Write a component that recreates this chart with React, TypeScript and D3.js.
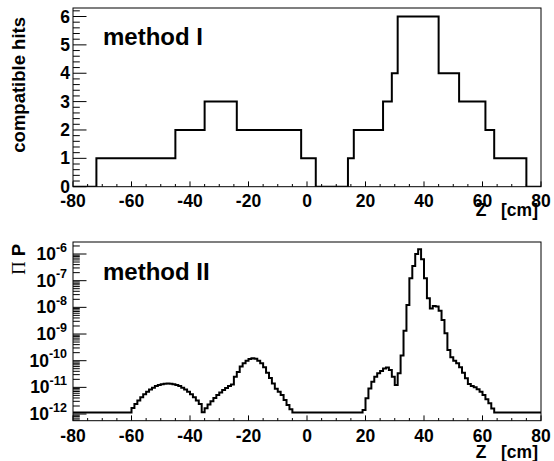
import React from 'react';
import * as d3 from 'd3';

// ---------- data ----------
// Upper panel: variable-width bins (edges in cm) and hit counts
const TOP_EDGES = [-80, -72, -45, -35, -24, -2, 3, 14, 16, 26, 29, 31, 45, 52, 61, 64, 75, 80];
const TOP_COUNTS = [0, 1, 2, 3, 2, 1, 0, 1, 2, 3, 4, 6, 4, 3, 2, 1, 0];

// Lower panel: 1 cm bins from -80 to 80, product of probabilities
const BOTTOM_START = -80;
const BOTTOM_END = 80;
const BOTTOM_VALUES = [
  // -80 .. -61
  1.15e-12, 1.15e-12, 1.15e-12, 1.15e-12, 1.15e-12, 1.15e-12, 1.15e-12, 1.15e-12, 1.15e-12, 1.15e-12,
  1.15e-12, 1.15e-12, 1.15e-12, 1.15e-12, 1.15e-12, 1.15e-12, 1.15e-12, 1.15e-12, 1.15e-12, 1.15e-12,
  // -60 .. -37
  1.70e-12, 2.40e-12, 3.24e-12, 4.27e-12, 5.50e-12, 6.92e-12, 8.32e-12, 9.77e-12,
  1.12e-11, 1.23e-11, 1.32e-11, 1.38e-11, 1.41e-11, 1.38e-11, 1.32e-11, 1.23e-11,
  1.12e-11, 9.77e-12, 8.32e-12, 6.92e-12, 5.50e-12, 4.27e-12, 3.24e-12, 2.40e-12,
  // -36 .. -6
  1.17e-12, 1.66e-12, 2.29e-12, 3.02e-12, 3.98e-12, 5.13e-12, 6.46e-12, 7.94e-12, 9.55e-12, 1.12e-11,
  1.29e-11, 2.51e-11, 3.80e-11, 6.03e-11, 7.94e-11, 1.0e-10, 1.15e-10, 1.23e-10, 1.17e-10, 1.0e-10,
  7.94e-11, 5.62e-11, 3.55e-11, 2.24e-11, 1.41e-11, 8.91e-12, 6.92e-12, 5.13e-12, 3.39e-12, 2.19e-12,
  1.51e-12,
  // -5 .. 18
  1.15e-12, 1.15e-12, 1.15e-12, 1.15e-12, 1.15e-12, 1.15e-12, 1.15e-12, 1.15e-12, 1.15e-12, 1.15e-12,
  1.15e-12, 1.15e-12, 1.15e-12, 1.15e-12, 1.15e-12, 1.15e-12, 1.15e-12, 1.15e-12, 1.15e-12, 1.15e-12,
  1.15e-12, 1.15e-12, 1.15e-12, 1.15e-12,
  // 19 .. 63
  1.41e-12, 3.89e-12, 9.12e-12, 1.62e-11, 2.51e-11, 3.39e-11, 4.07e-11, 5.13e-11, 5.50e-11, 4.47e-11,
  2.51e-11, 1.23e-11, 3.39e-11, 1.58e-10, 1.32e-9, 1.23e-8, 1.23e-7, 3.55e-7, 1.0e-6, 1.51e-6,
  6.31e-7, 1.23e-7, 2.19e-8, 9.12e-9, 1.12e-8, 1.07e-8, 7.41e-9, 3.39e-9, 1.07e-9, 2.51e-10,
  1.35e-10, 1.0e-10, 7.94e-11, 5.62e-11, 3.55e-11, 2.19e-11, 1.35e-11, 1.12e-11, 1.0e-11, 8.51e-12,
  6.92e-12, 5.13e-12, 3.55e-12, 2.51e-12, 1.62e-12,
  // 64 .. 79
  1.15e-12, 1.15e-12, 1.15e-12, 1.15e-12, 1.15e-12, 1.15e-12, 1.15e-12, 1.15e-12, 1.15e-12, 1.15e-12,
  1.15e-12, 1.15e-12, 1.15e-12, 1.15e-12, 1.15e-12, 1.15e-12,
];

const X_TICKS = [-80, -60, -40, -20, 0, 20, 40, 60, 80];
const TOP_Y_TICKS = [0, 1, 2, 3, 4, 5, 6];
const LOG_EXPONENTS = [-6, -7, -8, -9, -10, -11, -12];

const FONT = "'Liberation Sans', Arial, Helvetica, sans-serif";
const LABEL_SIZE = 17.5;

function stepPoints(edges: number[], values: number[]): [number, number][] {
  const pts: [number, number][] = [];
  values.forEach((v, i) => {
    pts.push([edges[i], v]);
    pts.push([edges[i + 1], v]);
  });
  return pts;
}

export default function App() {
  const W = 554, H = 461;
  const L = 73, R = 541;
  const top = { y0: 8, y1: 186.7 };
  const bot = { y0: 242, y1: 420.7 };

  const x = d3.scaleLinear().domain([-80, 80]).range([L, R]);
  const yTop = d3.scaleLinear().domain([0, 6.3]).range([top.y1, top.y0]);
  const yBot = d3.scaleLog().domain([Math.pow(10, -12.25), Math.pow(10, -5.55)]).range([bot.y1, bot.y0]);

  const topLine = d3.line<[number, number]>().x(d => x(d[0])).y(d => yTop(d[1]));
  const botEdges = d3.range(BOTTOM_START, BOTTOM_END + 1, 1);
  const botLine = d3.line<[number, number]>().x(d => x(d[0])).y(d => yBot(d[1]));

  const topPath = topLine(stepPoints(TOP_EDGES, TOP_COUNTS)) || '';
  const botPath = botLine(stepPoints(botEdges, BOTTOM_VALUES)) || '';

  const xMinor = d3.range(-80, 81, 5).filter(v => v % 20 !== 0);
  const yTopMinor = d3.range(0, 6.3, 0.2).filter(v => Math.abs(v - Math.round(v)) > 1e-6);
  const [dLo, dHi] = yBot.domain();
  const logMinor: number[] = [];
  for (let e = -13; e <= -5; e++) {
    for (let m = 2; m <= 9; m++) {
      const v = m * Math.pow(10, e);
      if (v >= dLo && v <= dHi) logMinor.push(v);
    }
  }

  const xMajorLen = 5.3, xMinorLen = 2.7;
  const yMajorLen = 13.5, yMinorLen = 6.8;

  const xAxis = (y1: number, labelBaseline: number, key: string) => (
    <g key={key}>
      {X_TICKS.map(t => (
        <line key={'M' + t} x1={x(t)} x2={x(t)} y1={y1} y2={y1 - xMajorLen} stroke="#000" strokeWidth={1} />
      ))}
      {xMinor.map(t => (
        <line key={'m' + t} x1={x(t)} x2={x(t)} y1={y1} y2={y1 - xMinorLen} stroke="#000" strokeWidth={1} />
      ))}
      {X_TICKS.map(t => (
        <text key={'l' + t} x={x(t)} y={labelBaseline} textAnchor="middle" fontFamily={FONT}
          fontWeight="bold" fontSize={LABEL_SIZE}>{t}</text>
      ))}
    </g>
  );

  return (
    <svg width={W} height={H} style={{ position: 'absolute', left: 0, top: 0, background: '#fff' }}>
      <rect x={0} y={0} width={W} height={H} fill="#fff" />
      <defs>
        <clipPath id="clipTop"><rect x={L} y={top.y0} width={R - L} height={top.y1 - top.y0} /></clipPath>
        <clipPath id="clipBot"><rect x={L} y={bot.y0} width={R - L} height={bot.y1 - bot.y0} /></clipPath>
      </defs>

      {/* ---------- top panel ---------- */}
      <rect x={L} y={top.y0} width={R - L} height={top.y1 - top.y0} fill="none" stroke="#000" strokeWidth={1} />
      <path d={topPath} fill="none" stroke="#000" strokeWidth={2} clipPath="url(#clipTop)" />
      {TOP_Y_TICKS.map(t => (
        <g key={'yt' + t}>
          <line x1={L} x2={L + yMajorLen} y1={yTop(t)} y2={yTop(t)} stroke="#000" strokeWidth={1} />
          <text x={70} y={yTop(t) + 6} textAnchor="end" fontFamily={FONT} fontWeight="bold" fontSize={LABEL_SIZE}>{t}</text>
        </g>
      ))}
      {yTopMinor.map(t => (
        <line key={'ytm' + t} x1={L} x2={L + yMinorLen} y1={yTop(t)} y2={yTop(t)} stroke="#000" strokeWidth={1} />
      ))}
      {xAxis(top.y1, 207, 'xa1')}
      <text x={538} y={216} textAnchor="end" fontFamily={FONT} fontWeight="bold" fontSize={LABEL_SIZE}
        style={{ whiteSpace: 'pre' }}>{'Z   [cm]'}</text>
      <text transform={`translate(25,17) rotate(-90)`} textAnchor="end" fontFamily={FONT}
        fontWeight="bold" fontSize={18.5}>compatible hits</text>
      <text x={103} y={45} fontFamily={FONT} fontWeight="bold" fontSize={24}>method I</text>

      {/* ---------- bottom panel ---------- */}
      <rect x={L} y={bot.y0} width={R - L} height={bot.y1 - bot.y0} fill="none" stroke="#000" strokeWidth={1} />
      <path d={botPath} fill="none" stroke="#000" strokeWidth={2} clipPath="url(#clipBot)" />
      {LOG_EXPONENTS.map(e => {
        const v = Math.pow(10, e);
        const yy = yBot(v);
        return (
          <g key={'lt' + e}>
            <line x1={L} x2={L + yMajorLen} y1={yy} y2={yy} stroke="#000" strokeWidth={1} />
            <text x={67} y={yy + 6} textAnchor="end" fontFamily={FONT} fontWeight="bold" fontSize={LABEL_SIZE}>
              <tspan>10</tspan>
              <tspan dy={-8.5} fontSize={12.5}>{String(e)}</tspan>
            </text>
          </g>
        );
      })}
      {logMinor.map((v, i) => (
        <line key={'lm' + i} x1={L} x2={L + yMinorLen} y1={yBot(v)} y2={yBot(v)} stroke="#000" strokeWidth={1} />
      ))}
      {xAxis(bot.y1, 442, 'xa2')}
      <text x={538} y={458} textAnchor="end" fontFamily={FONT} fontWeight="bold" fontSize={LABEL_SIZE}
        style={{ whiteSpace: 'pre' }}>{'Z   [cm]'}</text>
      <text transform={`translate(25,244) rotate(-90)`} textAnchor="end" fontSize={18.5}>
        <tspan fontFamily="'Liberation Serif', 'DejaVu Serif', serif">Π</tspan>
        <tspan fontFamily={FONT} fontWeight="bold">{' P'}</tspan>
      </text>
      <text x={103} y={280} fontFamily={FONT} fontWeight="bold" fontSize={24}>method II</text>
    </svg>
  );
}
